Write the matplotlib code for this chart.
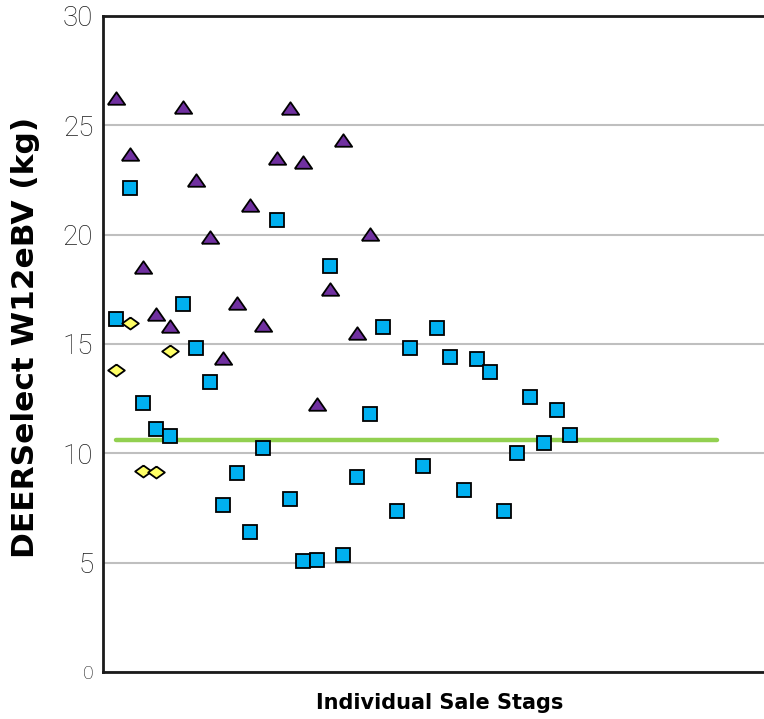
import matplotlib
matplotlib.use("Agg")
import matplotlib.pyplot as plt
import numpy as np

# Data
purple_vals = [26.25, 23.7, 18.5, 16.36, 15.83, 25.83, 22.5, 19.9, 14.35, 16.86,
               21.36, 15.88, 23.49, 25.8, 23.33, 12.27, 17.5, 24.32, 15.49, 20.05]
blue_vals = [16.14, 22.12, 12.3, 11.09, 10.8, 16.83, 14.82, 13.26, 7.62, 9.08,
             6.39, 10.23, 20.65, 7.91, 5.08, 5.14, 18.56, 5.33, 8.92, 11.82,
             15.79, 7.38, 14.82, 9.44, 15.73, 14.42, 8.33, 14.33, 13.7, 7.38,
             10.03, 12.58, 10.47, 12.0, 10.85]
yellow_vals = [13.82, 15.94, 9.2, 9.14, 14.7]
avg_value = 10.6
avg_span = [1, 46]

yticks = [0, 5, 10, 15, 20, 25, 30]

# custom marker shapes (wider than tall, like the office markers)
tri = [(-1, -0.72), (1, -0.72), (0, 0.72), (-1, -0.72)]
dia = [(0, 0.72), (1, 0), (0, -0.72), (-1, 0), (0, 0.72)]

fig = plt.figure(figsize=(7.64, 7.19), dpi=100, facecolor="white")
ax = fig.add_axes([103 / 764, 47 / 719, 661 / 764, 656 / 719])

ax.set_xlim(0, 49.5)
ax.set_ylim(0, 30)

ax.plot(avg_span, [avg_value, avg_value], color="#92D050", lw=3.2,
        solid_capstyle="round", zorder=2)

ax.plot(np.arange(1, len(blue_vals) + 1), blue_vals, ls="none", marker="s",
        ms=10.5, mfc="#00B0F0", mec="black", mew=1.3, zorder=3)
ax.plot(np.arange(1, len(purple_vals) + 1), purple_vals, ls="none", marker=tri,
        ms=12.5, mfc="#7030A0", mec="black", mew=1.3, zorder=3)
ax.plot(np.arange(1, len(yellow_vals) + 1), yellow_vals, ls="none", marker=dia,
        ms=12, mfc="#FFFF66", mec="black", mew=1.3, zorder=3)

ax.set_yticks(yticks)
ax.set_yticklabels([str(v) for v in yticks], fontsize=20, family="Roboto",
                   fontweight="light", color="#1a1a1a")
ax.get_yticklabels()[0].set_fontsize(14)
ax.set_xticks([])
ax.tick_params(axis="y", length=0, pad=7)
ax.grid(axis="y", color="#BFBFBF", lw=1.5, zorder=0)
ax.set_axisbelow(True)

for side in ["left", "bottom", "top"]:
    ax.spines[side].set_linewidth(2)
    ax.spines[side].set_color("#1a1a1a")
ax.spines["right"].set_visible(False)

fig.text(0.034, 0.53, "DEERSelect W12eBV (kg)", rotation=90, ha="center",
         va="center", fontsize=22.5, fontweight="bold", family="DejaVu Sans")
fig.text(0.576, 0.022, "Individual Sale Stags", ha="center", va="center",
         fontsize=15, fontweight="bold", family="DejaVu Sans")

fig.savefig("out.png", dpi=100, facecolor="white")
